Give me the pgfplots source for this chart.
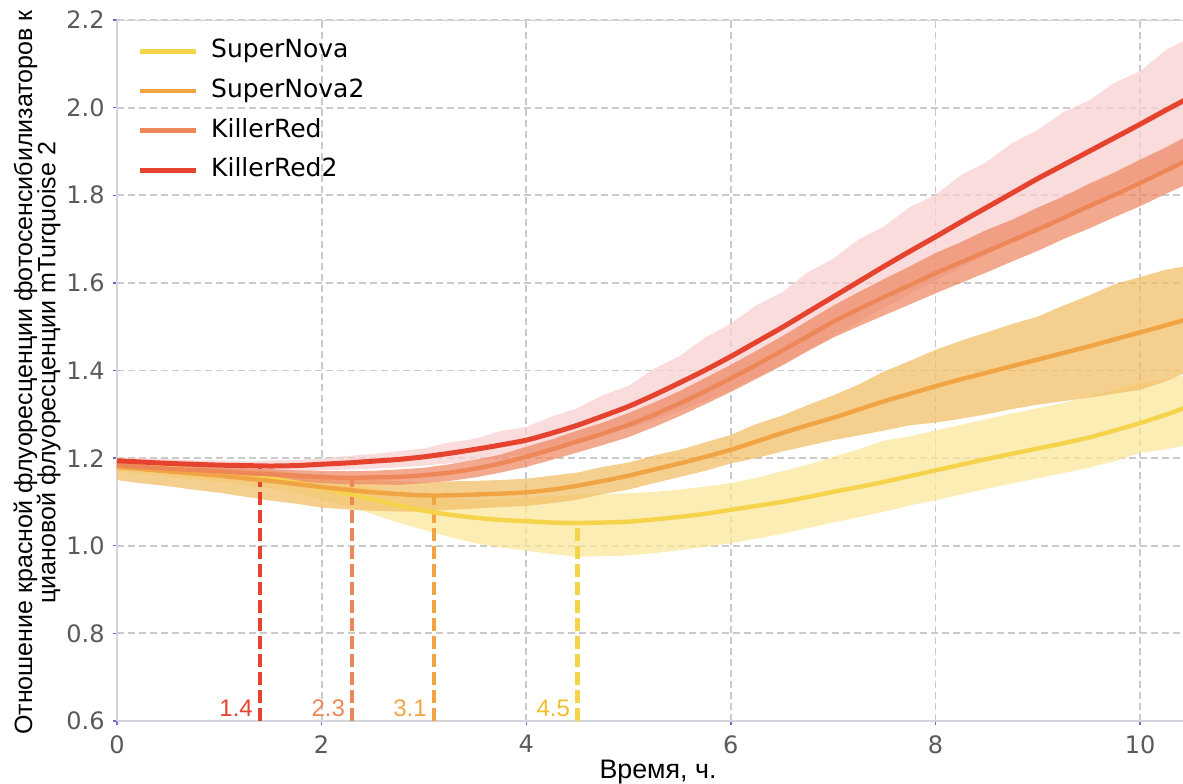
\documentclass[border=0pt]{standalone}
\usepackage{fontspec}
\setmainfont{DejaVu Sans}
\newfontfamily\labelfont{Liberation Sans}
\usepackage{pgfplots}
\usepackage{pgfplotstable}
\usepgfplotslibrary{fillbetween}
\pgfplotsset{compat=1.18}

% line colours
\definecolor{snline}{HTML}{F5D44C}
\definecolor{sntwoline}{HTML}{F0A443}
\definecolor{krline}{HTML}{EE8758}
\definecolor{krtwoline}{HTML}{E5432E}
\definecolor{snlabel}{HTML}{EDBE2E}
% band colours (drawn with opacity 0.75)
\definecolor{snband}{HTML}{F9E79A}
\definecolor{sntwoband}{HTML}{F2BF68}
\definecolor{krband}{HTML}{EE8C68}
\definecolor{krtwoband}{HTML}{F8D0D0}
% frame colours
\definecolor{gridgray}{HTML}{CACACA}
\definecolor{axisgray}{HTML}{D4D4DE}
\definecolor{tickblue}{HTML}{6A6ACC}
\definecolor{ticktext}{HTML}{5A5A5A}

% mean ratio (m) with lower and upper band edges (lo, hi)
\pgfplotstableread{
x     m     lo    hi
0.00  1.188 1.170 1.198
0.25  1.183 1.164 1.194
0.50  1.178 1.158 1.190
0.75  1.173 1.152 1.186
1.00  1.167 1.146 1.181
1.25  1.161 1.139 1.176
1.50  1.154 1.131 1.170
1.75  1.144 1.120 1.162
2.00  1.132 1.106 1.152
2.25  1.119 1.090 1.142
2.50  1.106 1.072 1.133
2.75  1.092 1.053 1.122
3.00  1.080 1.036 1.112
3.25  1.071 1.020 1.107
3.50  1.064 1.006 1.104
3.75  1.059 0.996 1.106
4.00  1.056 0.989 1.110
4.25  1.053 0.981 1.113
4.50  1.052 0.975 1.116
4.75  1.053 0.976 1.118
5.00  1.055 0.978 1.120
5.25  1.060 0.983 1.123
5.50  1.066 0.990 1.128
5.75  1.073 0.997 1.135
6.00  1.082 1.006 1.143
6.25  1.091 1.016 1.155
6.50  1.100 1.027 1.170
6.75  1.111 1.040 1.185
7.00  1.123 1.053 1.203
7.25  1.134 1.065 1.220
7.50  1.146 1.078 1.240
7.75  1.159 1.092 1.250
8.00  1.172 1.104 1.263
8.25  1.185 1.117 1.276
8.50  1.198 1.130 1.289
8.75  1.210 1.142 1.302
9.00  1.222 1.154 1.314
9.25  1.234 1.166 1.326
9.50  1.247 1.178 1.340
9.75  1.263 1.193 1.356
10.00 1.280 1.212 1.371
10.25 1.299 1.220 1.380
10.50 1.320 1.232 1.392
}\supernova

\pgfplotstableread{
x     m     lo    hi
0.00  1.180 1.150 1.195
0.25  1.175 1.142 1.191
0.50  1.170 1.136 1.187
0.75  1.165 1.128 1.183
1.00  1.160 1.121 1.180
1.25  1.154 1.112 1.176
1.50  1.148 1.103 1.171
1.75  1.141 1.096 1.166
2.00  1.134 1.087 1.159
2.25  1.128 1.083 1.155
2.50  1.122 1.080 1.150
2.75  1.118 1.078 1.147
3.00  1.115 1.078 1.145
3.25  1.115 1.082 1.147
3.50  1.117 1.085 1.148
3.75  1.119 1.088 1.150
4.00  1.122 1.091 1.153
4.25  1.128 1.097 1.160
4.50  1.137 1.105 1.167
4.75  1.148 1.118 1.180
5.00  1.160 1.128 1.190
5.25  1.174 1.143 1.206
5.50  1.188 1.157 1.219
5.75  1.203 1.171 1.236
6.00  1.219 1.188 1.253
6.25  1.238 1.200 1.278
6.50  1.257 1.215 1.297
6.75  1.275 1.228 1.321
7.00  1.292 1.241 1.343
7.25  1.311 1.252 1.368
7.50  1.330 1.263 1.398
7.75  1.347 1.275 1.422
8.00  1.364 1.281 1.447
8.25  1.380 1.290 1.468
8.50  1.395 1.300 1.487
8.75  1.410 1.312 1.506
9.00  1.425 1.322 1.523
9.25  1.440 1.330 1.548
9.50  1.455 1.338 1.571
9.75  1.471 1.347 1.597
10.00 1.487 1.356 1.613
10.25 1.503 1.375 1.630
10.50 1.520 1.400 1.640
}\supernovatwo

\pgfplotstableread{
x     m     lo    hi
0.00  1.184 1.176 1.192
0.25  1.180 1.171 1.188
0.50  1.176 1.166 1.185
0.75  1.173 1.163 1.183
1.00  1.170 1.159 1.181
1.25  1.166 1.154 1.177
1.50  1.163 1.151 1.175
1.75  1.160 1.147 1.172
2.00  1.157 1.143 1.171
2.25  1.155 1.140 1.170
2.50  1.156 1.140 1.171
2.75  1.157 1.139 1.174
3.00  1.161 1.143 1.178
3.25  1.167 1.148 1.186
3.50  1.176 1.156 1.196
3.75  1.188 1.167 1.208
4.00  1.203 1.180 1.226
4.25  1.220 1.196 1.243
4.50  1.238 1.213 1.263
4.75  1.256 1.230 1.281
5.00  1.276 1.248 1.303
5.25  1.299 1.271 1.327
5.50  1.325 1.296 1.353
5.75  1.353 1.323 1.383
6.00  1.382 1.351 1.413
6.25  1.413 1.381 1.445
6.50  1.445 1.411 1.478
6.75  1.478 1.444 1.513
7.00  1.511 1.475 1.548
7.25  1.540 1.501 1.579
7.50  1.568 1.526 1.609
7.75  1.595 1.551 1.638
8.00  1.622 1.576 1.668
8.25  1.647 1.600 1.693
8.50  1.672 1.624 1.721
8.75  1.697 1.649 1.744
9.00  1.722 1.673 1.772
9.25  1.748 1.700 1.797
9.50  1.775 1.724 1.826
9.75  1.801 1.750 1.852
10.00 1.828 1.775 1.881
10.25 1.856 1.803 1.909
10.50 1.885 1.830 1.940
}\killerred

\pgfplotstableread{
x     m     lo    hi
0.00  1.194 1.186 1.202
0.25  1.191 1.182 1.200
0.50  1.188 1.179 1.198
0.75  1.186 1.176 1.195
1.00  1.184 1.174 1.195
1.25  1.183 1.172 1.193
1.50  1.182 1.170 1.195
1.75  1.183 1.170 1.196
2.00  1.186 1.172 1.199
2.25  1.189 1.174 1.205
2.50  1.193 1.176 1.209
2.75  1.197 1.179 1.216
3.00  1.203 1.183 1.222
3.25  1.211 1.188 1.236
3.50  1.220 1.194 1.244
3.75  1.230 1.201 1.262
4.00  1.241 1.209 1.271
4.25  1.257 1.221 1.295
4.50  1.275 1.234 1.314
4.75  1.296 1.251 1.344
5.00  1.318 1.268 1.365
5.25  1.344 1.287 1.404
5.50  1.372 1.308 1.433
5.75  1.401 1.330 1.475
6.00  1.432 1.354 1.507
6.25  1.465 1.384 1.549
6.50  1.498 1.414 1.578
6.75  1.533 1.446 1.624
7.00  1.568 1.478 1.655
7.25  1.603 1.511 1.699
7.50  1.638 1.543 1.729
7.75  1.672 1.575 1.773
8.00  1.705 1.605 1.801
8.25  1.739 1.635 1.846
8.50  1.772 1.664 1.876
8.75  1.805 1.694 1.919
9.00  1.838 1.723 1.949
9.25  1.869 1.752 1.990
9.50  1.900 1.780 2.016
9.75  1.931 1.809 2.057
10.00 1.962 1.837 2.083
10.25 1.994 1.862 2.131
10.50 2.025 1.885 2.162
}\killerredtwo

\begin{document}
\begin{tikzpicture}
\begin{axis}[
  at={(0,0)}, anchor=south west,
  width=533pt, height=350.5pt, scale only axis,
  xmin=0, xmax=10.42, ymin=0.6, ymax=2.2,
  enlargelimits=false,
  axis lines*=left,
  axis line style={draw=axisgray, line width=1pt},
  xtick={0,2,4,6,8,10},
  ytick={0.6,0.8,1.0,1.2,1.4,1.6,1.8,2.0,2.2},
  grid=major,
  major grid style={draw=gridgray, line width=0.9pt, dash pattern=on 3.5pt off 2pt},
  tick align=outside,
  major tick length=2pt,
  tick style={draw=tickblue, line width=0.7pt},
  /pgf/number format/assume math mode=true,
  tick label style={font=\fontsize{12}{14}\selectfont, text=ticktext},
  yticklabel style={inner sep=0pt, anchor=east, xshift=-4pt,
    /pgf/number format/fixed, /pgf/number format/fixed zerofill,
    /pgf/number format/precision=1},
  xticklabel style={inner sep=0pt, anchor=north, yshift=-5pt},
  legend style={at={(rel axis cs:0,1)}, anchor=north west,
    xshift=10pt, yshift=-9.25pt,
    draw=none, fill=none, inner sep=0pt,
    font=\fontsize{12.5}{14}\selectfont, row sep=7.3pt,
    nodes={inner sep=0pt, text height=9.5pt, text depth=3pt},
    /tikz/every odd column/.append style={column sep=6.5pt}},
  legend cell align=left,
  legend image code/.code={\draw[#1, line width=2.4pt] (0pt,0pt) -- (28pt,0pt);},
]

% spread bands
\addplot[name path=snlo, draw=none, forget plot] table[x=x, y=lo]{\supernova};
\addplot[name path=snhi, draw=none, forget plot] table[x=x, y=hi]{\supernova};
\addplot[fill=snband, fill opacity=0.75, draw=none, forget plot] fill between[of=snlo and snhi];

\addplot[name path=sntlo, draw=none, forget plot] table[x=x, y=lo]{\supernovatwo};
\addplot[name path=snthi, draw=none, forget plot] table[x=x, y=hi]{\supernovatwo};
\addplot[fill=sntwoband, fill opacity=0.75, draw=none, forget plot] fill between[of=sntlo and snthi];

\addplot[name path=krtlo, draw=none, forget plot] table[x=x, y=lo]{\killerredtwo};
\addplot[name path=krthi, draw=none, forget plot] table[x=x, y=hi]{\killerredtwo};
\addplot[fill=krtwoband, fill opacity=0.75, draw=none, forget plot] fill between[of=krtlo and krthi];

\addplot[name path=krlo, draw=none, forget plot] table[x=x, y=lo]{\killerred};
\addplot[name path=krhi, draw=none, forget plot] table[x=x, y=hi]{\killerred};
\addplot[fill=krband, fill opacity=0.75, draw=none, forget plot] fill between[of=krlo and krhi];

% times of the minimum ratio
\addplot[krtwoline, line width=2.2pt, dash pattern=on 6.5pt off 2.5pt, forget plot] coordinates {(1.4,0.6) (1.4,1.182)};
\addplot[krline, line width=2.2pt, dash pattern=on 6.5pt off 2.5pt, forget plot] coordinates {(2.3,0.6) (2.3,1.155)};
\addplot[sntwoline, line width=2.2pt, dash pattern=on 6.5pt off 2.5pt, forget plot] coordinates {(3.1,0.6) (3.1,1.115)};
\addplot[snline, line width=2.2pt, dash pattern=on 6.5pt off 2.5pt, forget plot] coordinates {(4.5,0.6) (4.5,1.052)};

% mean curves
\addplot[snline, line width=2.2pt, smooth] table[x=x, y=m]{\supernova};
\addlegendentry{SuperNova}
\addplot[sntwoline, line width=2.2pt, smooth] table[x=x, y=m]{\supernovatwo};
\addlegendentry{SuperNova2}
\addplot[krline, line width=2.2pt, smooth] table[x=x, y=m]{\killerred};
\addlegendentry{KillerRed}
\addplot[krtwoline, line width=2.5pt, smooth] table[x=x, y=m]{\killerredtwo};
\addlegendentry{KillerRed2}

% minimum labels
\begin{scope}[every node/.style={inner sep=0pt, anchor=base east, yshift=2.5pt, xshift=-3.5pt, font=\labelfont\fontsize{12}{14}\selectfont}]
\node[text=krtwoline] at (axis cs:1.4,0.6) {1.4};
\node[text=krline] at (axis cs:2.3,0.6) {2.3};
\node[text=sntwoline] at (axis cs:3.1,0.6) {3.1};
\node[text=snlabel] at (axis cs:4.5,0.6) {4.5};
\end{scope}

% upper frame line
\draw[axisgray, line width=1pt] (rel axis cs:0,1) -- (rel axis cs:1,1);
\end{axis}

% axis titles (the axis box spans 533pt x 350.5pt from the origin)
\node[rotate=90, align=center, font=\labelfont\fontsize{12.5}{11}\selectfont, inner sep=0pt]
  at (-40pt,174.2pt)
  {Отношение красной флуоресценции фотосенсибилизаторов к\\[-1.2pt]циановой флуоресценции mTurquoise 2};
\node[anchor=base, inner sep=0pt, font=\labelfont\fontsize{13.4}{15}\selectfont]
  at (270.5pt,-28.5pt) {Время, ч.};

\pgfresetboundingbox
\useasboundingbox (-58.5pt,-31pt) rectangle (533pt,360.5pt);
\end{tikzpicture}
\end{document}
